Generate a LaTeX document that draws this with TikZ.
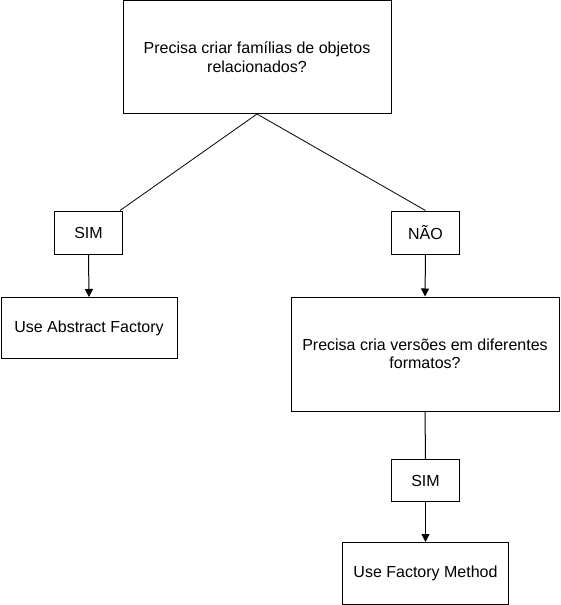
\documentclass[tikz,border=0pt]{standalone}
\usepackage{fontspec}
\setmainfont{Liberation Sans}
\usetikzlibrary{arrows.meta,calc}
\begin{document}
\begin{tikzpicture}[x=1pt,y=-1pt,
  box/.style={draw,line width=1pt,inner sep=0pt,align=center,font=\fontsize{16pt}{18.5pt}\selectfont},
  arr/.style={line width=1pt,-{Triangle[length=8pt,width=8pt]}},
  con/.style={line width=0.8pt}]
\useasboundingbox (0,0) rectangle (561,605);
\node[box,minimum width=268pt,minimum height=113pt] (q1) at (257,57) {Precisa criar famílias de objetos\\relacionados?};
\node[box,minimum width=68pt,minimum height=43pt] (sim1) at (88.5,232.5) {SIM};
\node[box,minimum width=68pt,minimum height=43pt] (nao) at (425.5,232.5) {NÃO};
\node[box,minimum width=176pt,minimum height=61pt] (af) at (89,328) {Use Abstract Factory};
\node[box,minimum width=268pt,minimum height=114pt] (q2) at (425,354) {Precisa cria versões em diferentes\\formatos?};
\node[box,minimum width=68pt,minimum height=42pt] (sim2) at (425.5,480.5) {SIM};
\node[box,minimum width=166pt,minimum height=62pt] (fm) at (425.5,573.5) {Use Factory Method};
\draw[con] (q1.south) -- ($(sim1.north east)+(-3,0)$);
\draw[con] (q1.south) -- (nao.north);
\draw[arr] (sim1.south) -- (af.north);
\draw[arr] (nao.south) -- (q2.north);
\draw[con,line width=1pt] (q2.south) -- (sim2.north);
\draw[arr] (sim2.south) -- (fm.north);
\end{tikzpicture}
\end{document}
